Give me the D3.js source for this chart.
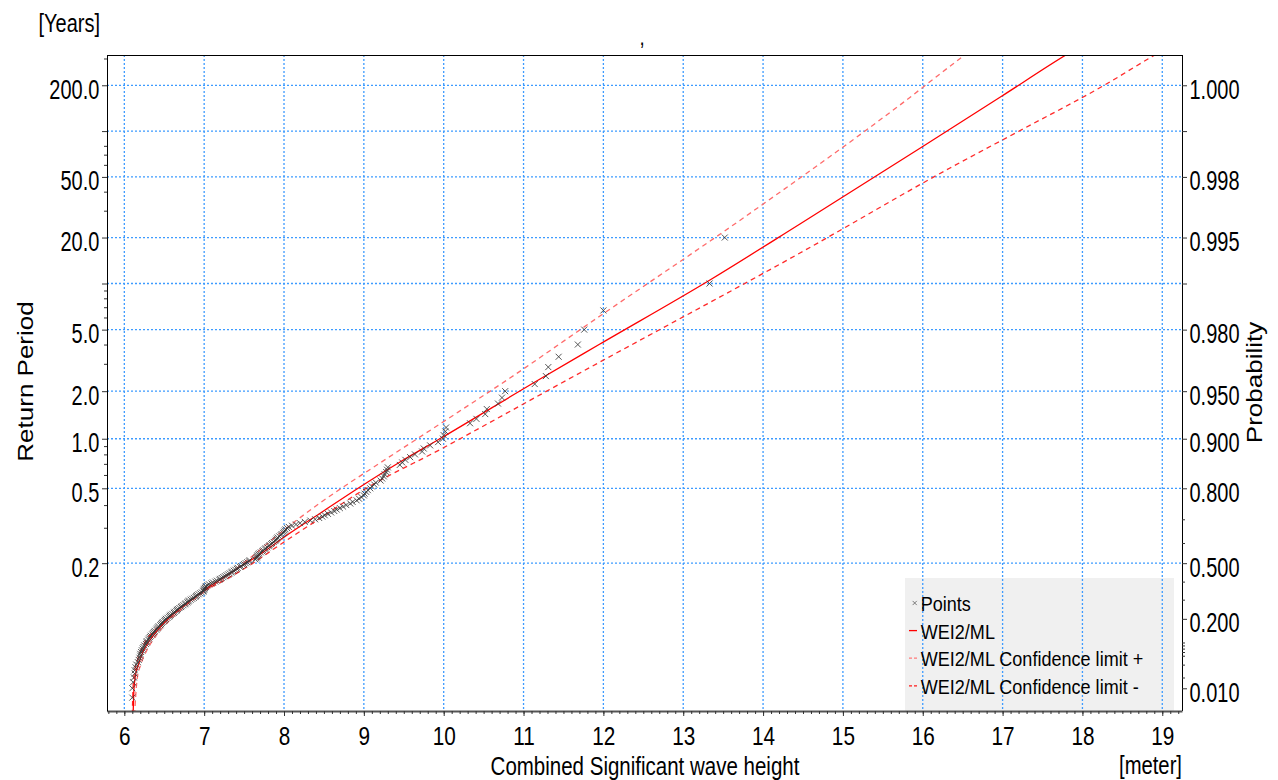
<!DOCTYPE html>
<html>
<head>
<meta charset="utf-8">
<script src="https://cdn.jsdelivr.net/npm/d3@7"></script>
<style>
  body { margin: 0; background: #fff; }
  svg { display: block; }
</style>
</head>
<body>
<svg id="chart" width="1278" height="780"></svg>
<script>
// storms per year, links return period and probability axes
var eventsPerYear = 10;

// axis ticks
var heightTicks = [6, 7, 8, 9, 10, 11, 12, 13, 14, 15, 16, 17, 18, 19];
var periodTicks = [200, 50, 20, 5, 2, 1, 0.5, 0.2];
var periodLabels = ["200.0", "50.0", "20.0", "5.0", "2.0", "1.0", "0.5", "0.2"];
var periodGrid = [200, 100, 50, 20, 10, 5, 2, 1, 0.5, 0.2];
var periodLong = [100, 10];
var periodMinor = [300, 80, 70, 60, 40, 30, 9, 8, 7, 6, 4, 3, 0.9, 0.8, 0.7, 0.6, 0.4, 0.3];
var probTicks = [0.9995, 0.998, 0.995, 0.98, 0.95, 0.9, 0.8, 0.5, 0.2, 0.01];
var probLabels = ["1.000", "0.998", "0.995", "0.980", "0.950", "0.900", "0.800", "0.500", "0.200", "0.010"];
var probLong = [0.999, 0.99];
var probMinor = [0.7, 0.6, 0.4, 0.3, 0.1, 0.09, 0.08, 0.07, 0.06, 0.04, 0.02];

// observed storms, sorted by height (meter)
var pointHeights = [
  13.52, 13.33, 12.00, 11.76, 11.68, 11.44, 11.31, 11.28, 11.14, 10.77,
  10.73, 10.68, 10.54, 10.52, 10.41, 10.33, 10.03, 10.02, 10.00, 9.99,
  9.93, 9.83, 9.75, 9.73, 9.64, 9.58, 9.52, 9.48, 9.45, 9.30,
  9.29, 9.28, 9.26, 9.25, 9.23, 9.21, 9.15, 9.13, 9.10, 9.08,
  9.05, 9.03, 9.01, 9.00, 8.97, 8.94, 8.91, 8.86, 8.83, 8.78,
  8.74, 8.70, 8.66, 8.63, 8.59, 8.55, 8.51, 8.48, 8.44, 8.39,
  8.33, 8.26, 8.20, 8.15, 8.10, 8.06, 8.04, 8.02, 8.01, 8.00,
  7.99, 7.97, 7.96, 7.94, 7.92, 7.91, 7.90, 7.89, 7.87, 7.85,
  7.84, 7.82, 7.81, 7.79, 7.77, 7.76, 7.74, 7.73, 7.71, 7.69,
  7.68, 7.67, 7.66, 7.66, 7.65, 7.64, 7.57, 7.56, 7.54, 7.52,
  7.50, 7.49, 7.46, 7.45, 7.42, 7.41, 7.39, 7.37, 7.35, 7.34,
  7.32, 7.30, 7.28, 7.26, 7.24, 7.22, 7.20, 7.19, 7.16, 7.14,
  7.11, 7.09, 7.06, 7.04, 7.02, 7.02, 7.01, 7.00, 7.00, 6.99,
  6.99, 6.97, 6.95, 6.93, 6.91, 6.90, 6.89, 6.87, 6.85, 6.83,
  6.81, 6.80, 6.79, 6.77, 6.76, 6.74, 6.72, 6.71, 6.69, 6.67,
  6.66, 6.65, 6.63, 6.62, 6.60, 6.58, 6.57, 6.56, 6.54, 6.52,
  6.51, 6.50, 6.48, 6.47, 6.46, 6.45, 6.43, 6.42, 6.41, 6.40,
  6.38, 6.37, 6.36, 6.35, 6.33, 6.32, 6.31, 6.30, 6.28, 6.28,
  6.27, 6.25, 6.24, 6.23, 6.22, 6.21, 6.20, 6.20, 6.19, 6.18,
  6.17, 6.15, 6.14, 6.13, 6.13, 6.12, 6.11, 6.10, 6.10
];
// their return periods (years)
var pointPeriods = [
  20, 10, 6.667, 5, 4, 3.333, 2.857, 2.5, 2.222, 2,
  1.818, 1.667, 1.538, 1.429, 1.333, 1.25, 1.176, 1.111, 1.053, 1,
  0.9524, 0.9091, 0.8696, 0.8333, 0.8, 0.7692, 0.7407, 0.7143, 0.6897, 0.6667,
  0.6452, 0.625, 0.6061, 0.5882, 0.5714, 0.5556, 0.5405, 0.5263, 0.5128, 0.5,
  0.4878, 0.4762, 0.4651, 0.4545, 0.4444, 0.4348, 0.4255, 0.4167, 0.4082, 0.4,
  0.3922, 0.3846, 0.3774, 0.3704, 0.3636, 0.3571, 0.3509, 0.3448, 0.339, 0.3333,
  0.3279, 0.3226, 0.3175, 0.3125, 0.3077, 0.303, 0.2985, 0.2941, 0.2899, 0.2857,
  0.2817, 0.2778, 0.274, 0.2703, 0.2667, 0.2632, 0.2597, 0.2564, 0.2532, 0.25,
  0.2469, 0.2439, 0.241, 0.2381, 0.2353, 0.2326, 0.2299, 0.2273, 0.2247, 0.2222,
  0.2198, 0.2174, 0.2151, 0.2128, 0.2105, 0.2083, 0.2062, 0.2041, 0.202, 0.2,
  0.19802, 0.19608, 0.19417, 0.19231, 0.19048, 0.18868, 0.18692, 0.18519, 0.18349, 0.18182,
  0.18018, 0.17857, 0.17699, 0.17544, 0.17391, 0.17241, 0.17094, 0.16949, 0.16807, 0.16667,
  0.16529, 0.16393, 0.1626, 0.16129, 0.16, 0.15873, 0.15748, 0.15625, 0.15504, 0.15385,
  0.15267, 0.15152, 0.15038, 0.14925, 0.14815, 0.14706, 0.14599, 0.14493, 0.14388, 0.14286,
  0.14184, 0.14085, 0.13986, 0.13889, 0.13793, 0.13699, 0.13605, 0.13514, 0.13423, 0.13333,
  0.13245, 0.13158, 0.13072, 0.12987, 0.12903, 0.12821, 0.12739, 0.12658, 0.12579, 0.125,
  0.12422, 0.12346, 0.1227, 0.12195, 0.12121, 0.12048, 0.11976, 0.11905, 0.11834, 0.11765,
  0.11696, 0.11628, 0.11561, 0.11494, 0.11429, 0.11364, 0.11299, 0.11236, 0.11173, 0.11111,
  0.1105, 0.10989, 0.10929, 0.1087, 0.10811, 0.10753, 0.10695, 0.10638, 0.10582, 0.10526,
  0.10471, 0.10417, 0.10363, 0.10309, 0.10256, 0.10204, 0.10152, 0.10101, 0.1005
];

// fitted WEI2/ML curve and confidence limits: [height, return period]
var fitLine = [
  [6.11, 0.1001], [6.12, 0.10089], [6.14, 0.10237], [6.175, 0.10409], [6.238, 0.10786],
  [6.322, 0.11222], [6.485, 0.12128], [6.66, 0.13148], [6.823, 0.14137], [7.002, 0.15465],
  [7.236, 0.17242], [7.487, 0.19625], [7.725, 0.22324], [8.004, 0.26832], [8.476, 0.36574],
  [8.952, 0.50896], [9.453, 0.71865], [9.991, 1.0249], [11.143, 2.2905], [11.957, 4.0314],
  [13.335, 10.541], [14.462, 24.552], [15.99, 78.58], [16.992, 169.97], [17.793, 316.4],
  [18.219, 428.2]
];
var confUpper = [
  [6.128, 0.1001], [6.159, 0.10175], [6.209, 0.1043], [6.284, 0.1082], [6.384, 0.11366],
  [6.547, 0.12267], [6.735, 0.13425], [6.998, 0.15203], [7.261, 0.17408], [7.574, 0.21136],
  [8.0, 0.29191], [8.451, 0.41108], [9.202, 0.70862], [9.991, 1.2734], [10.83, 2.4301],
  [11.957, 6.1316], [13.735, 26.479], [15.714, 148.39], [16.528, 316.4], [16.966, 461.9]
];
var confLower = [
  [6.1, 0.1001], [6.109, 0.10103], [6.128, 0.10281], [6.165, 0.10523], [6.222, 0.10891],
  [6.422, 0.11931], [6.635, 0.12972], [6.998, 0.15333], [7.261, 0.16919], [7.574, 0.19625],
  [8.0, 0.25299], [8.476, 0.34309], [8.952, 0.47574], [9.991, 0.87581], [11.544, 2.3592],
  [11.957, 3.0822], [14.462, 15.827], [16.341, 57.186], [17.255, 103.15], [18.257, 197.8],
  [18.908, 316.4], [19.221, 391.0]
];

var margin = {top: 55, right: 96, bottom: 69, left: 107},
    width = 1278 - margin.left - margin.right,
    height = 780 - margin.top - margin.bottom;

var font = "'Liberation Sans', Arial, sans-serif";
var gridColor = "#3d9bff";

// gumbel reduced variate
function gumbelP(p) { return -Math.log(-Math.log(p)); }
function gumbelT(t) { return gumbelP(1 - 1 / (eventsPerYear * t)); }

var x = d3.scaleLinear().domain([5.783, 19.247]).range([0, width]);
var y = d3.scaleLinear().domain([-1.871, 8.059]).range([height, 0]);

var svg = d3.select("#chart")
  .append("g")
    .attr("transform", "translate(" + margin.left + "," + margin.top + ")");

// narrow text like the original
function addText(parent, px, py, str, size, sx, anchor) {
  return parent.append("text")
    .attr("x", px / sx)
    .attr("y", py)
    .attr("transform", "scale(" + sx + ",1)")
    .attr("font-family", font)
    .attr("font-size", size + "px")
    .attr("text-anchor", anchor || "start")
    .attr("fill", "#000")
    .text(str);
}

svg.append("defs").append("clipPath").attr("id", "plot-clip")
  .append("rect").attr("width", width).attr("height", height);

// legend box (grid shows through it)
svg.append("rect")
  .attr("x", 798).attr("y", 523)
  .attr("width", 269).attr("height", height - 523)
  .attr("fill", "#f0f0f0");

// grid
svg.append("g").selectAll("line")
  .data(heightTicks)
  .enter().append("line")
    .attr("x1", function(d) { return x(d); })
    .attr("x2", function(d) { return x(d); })
    .attr("y1", 0).attr("y2", height)
    .attr("stroke", gridColor).attr("stroke-width", 1.3)
    .attr("stroke-dasharray", "2,2");

svg.append("g").selectAll("line")
  .data(periodGrid)
  .enter().append("line")
    .attr("x1", 0).attr("x2", width)
    .attr("y1", function(d) { return y(gumbelT(d)); })
    .attr("y2", function(d) { return y(gumbelT(d)); })
    .attr("stroke", gridColor).attr("stroke-width", 1.3)
    .attr("stroke-dasharray", "2,2");

// curves
var line = d3.line()
  .x(function(d) { return x(d[0]); })
  .y(function(d) { return y(gumbelT(d[1])); })
  .curve(d3.curveMonotoneX);

var curves = svg.append("g").attr("clip-path", "url(#plot-clip)");

curves.append("path").datum(confUpper)
  .attr("d", line).attr("fill", "none")
  .attr("stroke", "#ff6b6b").attr("stroke-width", 1.3)
  .attr("stroke-dasharray", "5,4");

curves.append("path").datum(confLower)
  .attr("d", line).attr("fill", "none")
  .attr("stroke", "#ff2a2a").attr("stroke-width", 1.3)
  .attr("stroke-dasharray", "5,4");

curves.append("path").datum(fitLine)
  .attr("d", line).attr("fill", "none")
  .attr("stroke", "#ff0000").attr("stroke-width", 1.3);

// points
var cross = "M-3,-3L3,3M-3,3L3,-3";
curves.append("g").selectAll("path")
  .data(pointHeights)
  .enter().append("path")
    .attr("transform", function(d, i) {
      return "translate(" + x(d) + "," + y(gumbelT(pointPeriods[i])) + ")";
    })
    .attr("d", cross)
    .attr("fill", "none")
    .attr("stroke", "#383838").attr("stroke-width", 1)
    .attr("opacity", 0.85);

// frame
svg.append("line").attr("x1", 0).attr("x2", width).attr("y1", 0.5).attr("y2", 0.5)
  .attr("stroke", "#000").attr("stroke-width", 1);
svg.append("line").attr("x1", width + 0.5).attr("x2", width + 0.5).attr("y1", 0).attr("y2", height)
  .attr("stroke", "#000").attr("stroke-width", 1);

// bottom axis
var xAxis = svg.append("g")
  .attr("transform", "translate(0," + height + ")")
  .call(d3.axisBottom(x).tickValues(heightTicks).tickSize(5).tickSizeOuter(0));
xAxis.select(".domain").attr("stroke", "#555").attr("stroke-width", 2);
xAxis.selectAll(".tick line").attr("stroke", "#333");
xAxis.selectAll(".tick text").remove();
xAxis.selectAll(".tick").each(function(d) {
  addText(d3.select(this), 0, 34, d, 25, 0.83, "middle");
});

svg.append("g")
  .attr("transform", "translate(0," + height + ")")
  .call(d3.axisBottom(x).tickValues(d3.range(58, 193).map(function(d) { return d / 10; }))
    .tickSize(3).tickSizeOuter(0).tickFormat(""))
  .call(function(g) { g.select(".domain").remove(); })
  .selectAll(".tick line").attr("stroke", "#333");

// left axis
var yAxis = svg.append("g")
  .call(d3.axisLeft(y).tickValues(periodTicks.map(gumbelT))
    .tickFormat(function(d, i) { return periodLabels[i]; })
    .tickSize(5).tickSizeOuter(0));
yAxis.select(".domain").attr("stroke", "#000");
yAxis.selectAll(".tick line").attr("stroke", "#333");
yAxis.selectAll(".tick text").remove();
yAxis.selectAll(".tick").each(function(d, i) {
  addText(d3.select(this), -7.7, 13, periodLabels[i], 27, 0.74, "end");
});

svg.append("g")
  .call(d3.axisLeft(y).tickValues(periodLong.map(gumbelT)).tickSize(5).tickFormat(""))
  .call(function(g) { g.select(".domain").remove(); })
  .selectAll(".tick line").attr("stroke", "#333");

svg.append("g")
  .call(d3.axisLeft(y).tickValues(periodMinor.map(gumbelT)).tickSize(3).tickFormat(""))
  .call(function(g) { g.select(".domain").remove(); })
  .selectAll(".tick line").attr("stroke", "#333");

// right axis
var pAxis = svg.append("g")
  .attr("transform", "translate(" + width + ",0)")
  .call(d3.axisRight(y).tickValues(probTicks.map(gumbelP))
    .tickFormat(function(d, i) { return probLabels[i]; })
    .tickSize(5).tickSizeOuter(0));
pAxis.select(".domain").remove();
pAxis.selectAll(".tick line").attr("stroke", "#333");
pAxis.selectAll(".tick text").remove();
pAxis.selectAll(".tick").each(function(d, i) {
  addText(d3.select(this), 7.5, 13, probLabels[i], 27, 0.74, "start");
});

svg.append("g")
  .attr("transform", "translate(" + width + ",0)")
  .call(d3.axisRight(y).tickValues(probLong.map(gumbelP)).tickSize(5).tickFormat(""))
  .call(function(g) { g.select(".domain").remove(); })
  .selectAll(".tick line").attr("stroke", "#333");

svg.append("g")
  .attr("transform", "translate(" + width + ",0)")
  .call(d3.axisRight(y).tickValues(probMinor.map(gumbelP)).tickSize(3).tickFormat(""))
  .call(function(g) { g.select(".domain").remove(); })
  .selectAll(".tick line").attr("stroke", "#333");

// titles and units
addText(svg, -68.5, -23.5, "[Years]", 25, 0.8, "start");
addText(svg, 535, -10, ",", 22, 0.85, "middle");
addText(svg, 538, height + 64, "Combined Significant wave height", 25, 0.82, "middle");
addText(svg, width, height + 63, "[meter]", 25, 0.81, "end");

svg.append("text")
  .attr("transform", "translate(-74,326.5) rotate(-90) scale(1,0.82)")
  .attr("font-family", font).attr("font-size", "26px")
  .attr("text-anchor", "middle")
  .text("Return Period");

svg.append("text")
  .attr("transform", "translate(" + (width + 80) + ",327.5) rotate(-90) scale(1,0.82)")
  .attr("font-family", font).attr("font-size", "26px")
  .attr("text-anchor", "middle")
  .text("Probability");

// legend
var legend = svg.append("g").attr("transform", "translate(798,523)");
var legendItems = ["Points", "WEI2/ML", "WEI2/ML Confidence limit +", "WEI2/ML Confidence limit -"];
var legendColors = ["#4a4a4a", "#ff0000", "#ff7a7a", "#ff1a1a"];

legendItems.forEach(function(label, i) {
  var cy = 25 + i * 27.6;
  if (i === 0) {
    legend.append("path")
      .attr("transform", "translate(9.7," + cy + ") scale(0.7)")
      .attr("d", cross).attr("fill", "none")
      .attr("stroke", legendColors[i]).attr("stroke-width", 1);
  } else {
    legend.append("line")
      .attr("x1", 4).attr("x2", 12).attr("y1", cy).attr("y2", cy)
      .attr("stroke", legendColors[i]).attr("stroke-width", 1.3)
      .attr("stroke-dasharray", i === 1 ? null : "3,2");
  }
  addText(legend, 15.7, cy + 8, label, 21, 0.86, "start");
});
</script>
</body>
</html>
